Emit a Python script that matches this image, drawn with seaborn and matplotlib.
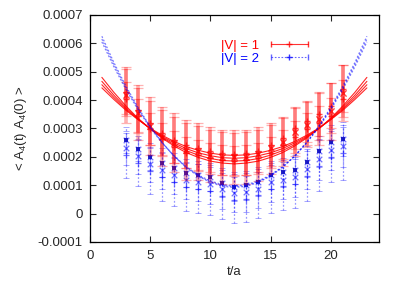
import numpy as np
import pandas as pd
import matplotlib
matplotlib.use('agg')
import matplotlib.pyplot as plt
import seaborn as sns
from matplotlib.lines import Line2D
from matplotlib.legend_handler import HandlerLine2D, HandlerTuple

# values in units of 1e-4
SCALE = 1e-4

t_pts = list(range(3, 22))

# |V| = 1 (red) data, three overlapping measurements
red1_y = [4.19, 3.56, 3.10, 2.71, 2.50, 2.25, 2.20, 2.08, 2.00, 2.00, 2.00, 2.10, 2.30, 2.54, 2.89, 3.13, 3.34, 3.60, 4.26]
red1_err = [0.99, 0.98, 1.02, 1.05, 1.05, 1.05, 1.00, 0.98, 0.95, 0.95, 0.95, 0.95, 0.90, 0.85, 0.85, 0.80, 0.92, 1.00, 0.99]
red2_y = [4.05, 3.45, 2.98, 2.62, 2.35, 2.15, 2.05, 1.95, 1.88, 1.85, 1.88, 1.95, 2.15, 2.40, 2.70, 2.98, 3.20, 3.45, 4.05]
red2_err = [0.60, 0.60, 0.58, 0.58, 0.56, 0.55, 0.55, 0.55, 0.52, 0.52, 0.52, 0.55, 0.55, 0.55, 0.58, 0.58, 0.60, 0.62, 0.65]
red3_y = [4.30, 3.65, 3.20, 2.85, 2.60, 2.40, 2.30, 2.20, 2.12, 2.10, 2.12, 2.20, 2.40, 2.65, 3.00, 3.25, 3.50, 3.80, 4.40]
red3_err = [0.80, 0.78, 0.78, 0.80, 0.80, 0.80, 0.78, 0.75, 0.75, 0.75, 0.75, 0.75, 0.72, 0.72, 0.72, 0.72, 0.78, 0.80, 0.82]

# |V| = 2 (blue) data
blue1_y = [2.60, 2.29, 2.00, 1.80, 1.62, 1.44, 1.37, 1.30, 1.09, 0.95, 0.99, 1.13, 1.37, 1.45, 1.55, 1.83, 2.20, 2.54, 2.64]
blue1_err = [0.45, 0.45, 0.48, 0.50, 0.50, 0.50, 0.50, 0.50, 0.50, 0.50, 0.50, 0.50, 0.50, 0.52, 0.52, 0.55, 0.55, 0.58, 0.60]
blue2_y = [2.32, 2.02, 1.74, 1.53, 1.35, 1.18, 1.10, 1.03, 0.85, 0.72, 0.75, 0.88, 1.10, 1.20, 1.30, 1.57, 1.92, 2.25, 2.38]
blue2_err = [0.60, 0.62, 0.62, 0.65, 0.65, 0.65, 0.65, 0.68, 0.68, 0.68, 0.68, 0.68, 0.68, 0.70, 0.70, 0.70, 0.72, 0.72, 0.75]
blue3_y = [2.05, 1.78, 1.50, 1.30, 1.12, 0.95, 0.88, 0.80, 0.62, 0.48, 0.52, 0.65, 0.86, 0.97, 1.06, 1.33, 1.68, 2.00, 2.12]
blue3_err = [0.80, 0.82, 0.82, 0.85, 0.85, 0.85, 0.85, 0.85, 0.82, 0.80, 0.82, 0.82, 0.85, 0.85, 0.88, 0.88, 0.90, 0.90, 0.92]

# fit curves, t = 1 .. 23
t_fit = list(range(1, 24))
red_fit_a = [4.80, 4.27, 3.79, 3.36, 2.99, 2.66, 2.38, 2.15, 1.98, 1.85, 1.78, 1.75, 1.78, 1.85, 1.98, 2.15, 2.38, 2.66, 2.99, 3.36, 3.79, 4.27, 4.80]
red_fit_b = [4.66, 4.17, 3.73, 3.34, 2.99, 2.69, 2.43, 2.22, 2.06, 1.94, 1.87, 1.85, 1.87, 1.94, 2.06, 2.22, 2.43, 2.69, 2.99, 3.34, 3.73, 4.17, 4.66]
red_fit_c = [4.54, 4.09, 3.68, 3.32, 3.00, 2.72, 2.49, 2.29, 2.14, 2.04, 1.97, 1.95, 1.97, 2.04, 2.14, 2.29, 2.49, 2.72, 3.00, 3.32, 3.68, 4.09, 4.54]
red_fit_d = [4.43, 4.02, 3.64, 3.31, 3.01, 2.76, 2.54, 2.36, 2.23, 2.13, 2.07, 2.05, 2.07, 2.13, 2.23, 2.36, 2.54, 2.76, 3.01, 3.31, 3.64, 4.02, 4.43]
blue_fit_a = [6.25, 5.32, 4.49, 3.74, 3.08, 2.51, 2.02, 1.62, 1.32, 1.10, 0.96, 0.92, 0.96, 1.10, 1.32, 1.62, 2.02, 2.51, 3.08, 3.74, 4.49, 5.32, 6.25]
blue_fit_b = [6.15, 5.25, 4.43, 3.70, 3.06, 2.50, 2.02, 1.64, 1.34, 1.12, 0.99, 0.95, 0.99, 1.12, 1.34, 1.64, 2.02, 2.50, 3.06, 3.70, 4.43, 5.25, 6.15]
blue_fit_c = [6.05, 5.17, 4.37, 3.66, 3.03, 2.49, 2.03, 1.65, 1.36, 1.15, 1.02, 0.98, 1.02, 1.15, 1.36, 1.65, 2.03, 2.49, 3.03, 3.66, 4.37, 5.17, 6.05]

xticks = [0, 5, 10, 15, 20]
yticks = [-0.0001, 0, 0.0001, 0.0002, 0.0003, 0.0004, 0.0005, 0.0006, 0.0007]
ytick_labels = ['-0.0001', '0', '0.0001', '0.0002', '0.0003', '0.0004', '0.0005', '0.0006', '0.0007']

sns.set_style('ticks')
plt.rcParams['font.family'] = ['Liberation Sans', 'DejaVu Sans']
plt.rcParams['mathtext.fontset'] = 'custom'
plt.rcParams['mathtext.rm'] = 'Liberation Sans'
plt.rcParams['mathtext.it'] = 'Liberation Sans'

fig = plt.figure(figsize=(4.01, 2.82), dpi=100)
ax = fig.add_axes([0.224, 0.142, 0.721, 0.805])

RED = '#ff0000'
BLUE = '#0000ff'

# blue data
for ys, es, mk in [(blue3_y, blue3_err, '+'), (blue2_y, blue2_err, 'x'), (blue1_y, blue1_err, 'x')]:
    eb = ax.errorbar(t_pts, np.array(ys) * SCALE, yerr=np.array(es) * SCALE, fmt='none',
                     ecolor=BLUE, elinewidth=0.9, capsize=2, capthick=0.6, alpha=0.4)
    for c in eb[2]:
        c.set_linestyle((0, (1.5, 1.5)))
    sns.scatterplot(x=t_pts, y=np.array(ys) * SCALE, ax=ax, marker=mk, color=BLUE,
                    s=16, linewidth=0.9, alpha=0.55, zorder=3)
sns.scatterplot(x=t_pts, y=np.array(blue1_y) * SCALE, ax=ax, marker='s', color='#1010c0',
                s=5, linewidth=0, alpha=0.9, zorder=3)

# red data
for ys, es in [(red1_y, red1_err), (red3_y, red3_err), (red2_y, red2_err)]:
    ax.errorbar(t_pts, np.array(ys) * SCALE, yerr=np.array(es) * SCALE, fmt='none',
                ecolor=RED, elinewidth=2.6, capsize=3.5, capthick=0.9, alpha=0.3, zorder=4)
for ys, mk in [(red1_y, 'x'), (red2_y, '+'), (red3_y, '+')]:
    sns.scatterplot(x=t_pts, y=np.array(ys) * SCALE, ax=ax, marker=mk, color=RED,
                    s=20, linewidth=1.0, alpha=0.7, zorder=5)

# fit curves
fits = pd.DataFrame({'t': t_fit})
for name, vals in [('ra', red_fit_a), ('rb', red_fit_b), ('rc', red_fit_c), ('rd', red_fit_d)]:
    fits[name] = np.array(vals) * SCALE
    sns.lineplot(data=fits, x='t', y=name, ax=ax, color=RED, linewidth=0.8, alpha=0.85, zorder=6)
for name, vals in [('ba', blue_fit_a), ('bb', blue_fit_b), ('bc', blue_fit_c)]:
    fits[name] = np.array(vals) * SCALE
    sns.lineplot(data=fits, x='t', y=name, ax=ax, color=BLUE, linewidth=0.9, alpha=0.5,
                 linestyle=(0, (1.5, 1.5)), zorder=7)

ax.set_xlim(0, 24)
ax.set_ylim(-0.0001, 0.0007)
ax.set_xticks(xticks)
ax.set_yticks(yticks)
ax.set_yticklabels(ytick_labels)
ax.tick_params(direction='in', top=True, right=True, length=4, width=0.8, labelsize=9.5, pad=5)
ax.tick_params(axis='x', pad=6)
for sp in ax.spines.values():
    sp.set_linewidth(0.9)
    sp.set_color('black')
ax.set_xlabel('t/a', fontsize=9.5, labelpad=3)
ax.set_ylabel(r'< A$_4$(t) A$_4$(0) >', fontsize=9.5, labelpad=6)

# legend (gnuplot style: text then sample)
r_cap = Line2D([], [], color=RED, marker='|', markersize=5, linestyle='-', linewidth=0.8, alpha=0.8)
r_mid = Line2D([], [], color=RED, marker='+', markersize=4, linestyle='none', alpha=0.8)
b_cap = Line2D([], [], color=BLUE, marker='|', markersize=5, linestyle=(0, (1.5, 1.5)), linewidth=0.8, alpha=0.6)
b_mid = Line2D([], [], color=BLUE, marker='+', markersize=4, linestyle='none', alpha=0.8)
leg = ax.legend([(r_cap, r_mid), (b_cap, b_mid)], ['|V| = 1', '|V| = 2'],
                handler_map={r_cap: HandlerLine2D(numpoints=2), b_cap: HandlerLine2D(numpoints=2),
                             tuple: HandlerTuple(ndivide=1)},
                loc='upper right', bbox_to_anchor=(0.79, 0.92), frameon=False, markerfirst=False,
                fontsize=9.5, handlelength=3.4, handletextpad=0.6, labelspacing=0.05,
                borderpad=0, labelcolor=[RED, BLUE])

fig.savefig('out.png', dpi=100)
